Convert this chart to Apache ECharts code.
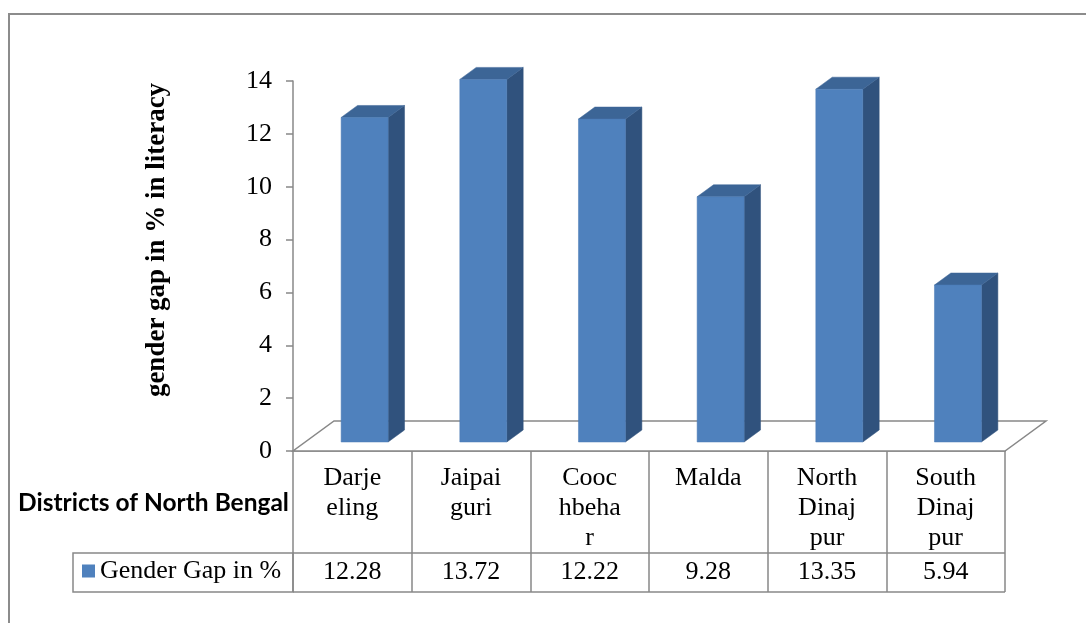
<!DOCTYPE html>
<html>
<head>
<meta charset="utf-8">
<script src="https://cdn.jsdelivr.net/npm/echarts@6/dist/echarts.min.js"></script>
<style>
html,body{margin:0;padding:0;background:#fff;}
#chart{width:1086px;height:623px;}
</style>
</head>
<body>
<div id="chart"></div>
<script>
// ---- data ----
var categories = ["Darjeeling", "Jaipaiguri", "Coochbehar", "Malda", "North Dinajpur", "South Dinajpur"];
var categoryLabels = ["Darje\neling", "Jaipai\nguri", "Cooc\nhbeha\nr", "Malda", "North\nDinaj\npur", "South\nDinaj\npur"];
var gapValues = [12.28, 13.72, 12.22, 9.28, 13.35, 5.94];
var valueLabels = ["12.28", "13.72", "12.22", "9.28", "13.35", "5.94"];
var seriesName = "Gender Gap in %";
var yTitle = "gender gap in % in literacy";
var xTitle = "Districts of North Bengal";

// ---- layout ----
var G_LEFT = 293, G_TOP = 81, G_W = 712, G_H = 370;
var G_BOTTOM = G_TOP + G_H;       // 451
var ROW1_BOTTOM = 553, ROW2_BOTTOM = 592;
var LEG_LEFT = 73;
var DEPTH = [41, -30];            // floor depth offset
var GRAY = '#888888';
var SERIF = 'Liberation Serif';
var FS = 26;

var chart = echarts.init(document.getElementById('chart'));

function floorItem(params, api) {
  var cs = params.coordSys;
  var x0 = cs.x, x1 = cs.x + cs.width, y0 = cs.y + cs.height;
  return {
    type: 'polygon',
    shape: { points: [[x0, y0], [x1, y0], [x1 + DEPTH[0], y0 + DEPTH[1]], [x0 + DEPTH[0], y0 + DEPTH[1]]] },
    style: { fill: '#ffffff', stroke: GRAY, lineWidth: 1.5 }
  };
}

function barItem(params, api) {
  var idx = api.value(0), v = api.value(1);
  var base = api.coord([idx, 0]);
  var top = api.coord([idx, v]);
  var bw = api.size([1, 0])[0];
  var w = bw * 0.396;
  var fx = DEPTH[0] * 0.3, fy = DEPTH[1] * 0.3;
  var dx = DEPTH[0] * 0.4, dy = DEPTH[1] * 0.4;
  var cx = base[0] + fx;
  var xl = cx - w / 2, xr = cx + w / 2;
  var yb = base[1] + fy, yt = top[1] + fy;
  return {
    type: 'group',
    children: [
      { type: 'polygon', shape: { points: [[xr, yb], [xr + dx, yb + dy], [xr + dx, yt + dy], [xr, yt]] },
        style: { fill: '#30527d', stroke: '#30527d', lineWidth: 0.5 } },
      { type: 'polygon', shape: { points: [[xl, yt], [xr, yt], [xr + dx, yt + dy], [xl + dx, yt + dy]] },
        style: { fill: '#3c6596', stroke: '#3c6596', lineWidth: 0.5 } },
      { type: 'rect', shape: { x: xl, y: yt, width: w, height: yb - yt },
        style: { fill: '#4f81bd', stroke: '#4a7ab4', lineWidth: 0.5 } }
    ]
  };
}

var option = {
  backgroundColor: '#ffffff',
  animation: false,
  grid: { left: G_LEFT, top: G_TOP, width: G_W, height: G_H, containLabel: false },
  legend: {
    data: [{ name: seriesName, icon: 'rect' }],
    left: LEG_LEFT + 9, top: 558, padding: 0,
    itemWidth: 13, itemHeight: 13, itemGap: 4,
    textStyle: { fontFamily: SERIF, fontSize: FS, lineHeight: FS, color: '#000' },
    selectedMode: false
  },
  xAxis: [
    {
      type: 'category', data: categories, position: 'bottom',
      axisLine: { show: true, lineStyle: { color: GRAY, width: 1.5 } },
      axisTick: { show: true, length: ROW2_BOTTOM - G_BOTTOM, lineStyle: { color: GRAY, width: 1.5 } },
      axisLabel: {
        margin: 12, fontFamily: SERIF, fontSize: FS, lineHeight: 30, color: '#000',
        verticalAlign: 'top', align: 'center',
        formatter: function (val, i) { return categoryLabels[i]; }
      },
      splitLine: { show: false }
    },
    {
      type: 'category', data: categories, position: 'bottom', offset: 0,
      axisLine: { show: false }, axisTick: { show: false },
      axisLabel: {
        margin: 108, fontFamily: SERIF, fontSize: FS, lineHeight: FS, color: '#000',
        formatter: function (val, i) { return valueLabels[i]; }
      },
      splitLine: { show: false }
    }
  ],
  yAxis: {
    type: 'value', min: 0, max: 14, interval: 2,
    axisLine: { show: true, lineStyle: { color: GRAY, width: 1.5 } },
    axisTick: { show: true, length: 7, lineStyle: { color: GRAY, width: 1.5 } },
    axisLabel: { margin: 21, fontFamily: SERIF, fontSize: FS, color: '#000' },
    splitLine: { show: false }
  },
  series: [
    {
      type: 'custom', name: 'floor', xAxisIndex: 0, yAxisIndex: 0, z: 1,
      renderItem: floorItem, data: [[0, 0]], silent: true
    },
    {
      type: 'custom', name: seriesName, xAxisIndex: 0, yAxisIndex: 0, z: 3,
      itemStyle: { color: '#4f81bd' },
      renderItem: barItem,
      encode: { x: 0, y: 1 },
      data: gapValues.map(function (v, i) { return [i, v]; })
    }
  ],
  graphic: [
    { type: 'rect', shape: { x: 9, y: 14, width: 1200, height: 700 },
      style: { fill: null, stroke: '#8c8c8c', lineWidth: 2 }, z: -1, silent: true },
    { type: 'line', shape: { x1: G_LEFT, y1: ROW1_BOTTOM, x2: G_LEFT + G_W, y2: ROW1_BOTTOM },
      style: { stroke: GRAY, lineWidth: 1.5 } },
    { type: 'line', shape: { x1: G_LEFT, y1: ROW2_BOTTOM, x2: G_LEFT + G_W, y2: ROW2_BOTTOM },
      style: { stroke: GRAY, lineWidth: 1.5 } },
    { type: 'rect', shape: { x: LEG_LEFT, y: ROW1_BOTTOM, width: G_LEFT - LEG_LEFT, height: ROW2_BOTTOM - ROW1_BOTTOM },
      style: { fill: null, stroke: GRAY, lineWidth: 1.5 } },
    { type: 'text', x: 18, y: 503,
      style: { text: xTitle, fontFamily: 'Lato', fontWeight: 'bold', fontSize: 24.5, fill: '#000', textAlign: 'left', textVerticalAlign: 'middle' } },
    { type: 'text', x: 157, y: 240, rotation: Math.PI / 2,
      style: { text: yTitle, fontFamily: SERIF, fontWeight: 'bold', fontSize: 27, fill: '#000', textAlign: 'center', textVerticalAlign: 'middle' } }
  ]
};
chart.setOption(option);
</script>
</body>
</html>
